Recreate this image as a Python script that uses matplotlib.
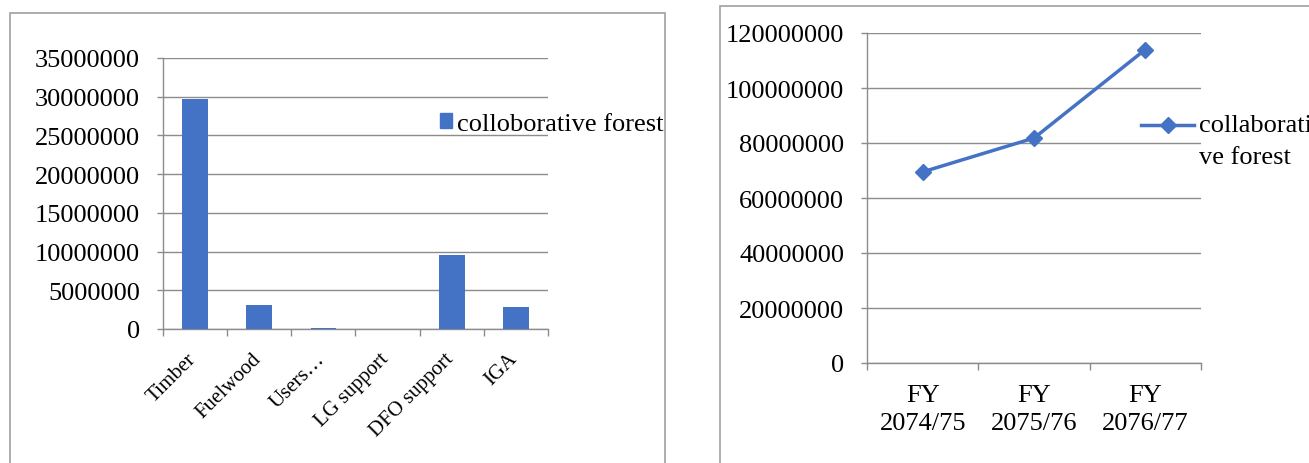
import matplotlib
matplotlib.use("Agg")
import matplotlib.pyplot as plt
from matplotlib.patches import Rectangle
from matplotlib.lines import Line2D
from matplotlib.transforms import ScaledTranslation

# --- data ---
components = ["Timber", "Fuelwood", "Users…", "LG support", "DFO support", "IGA"]
component_income = [29700000, 3130000, 150000, 0, 9560000, 2870000]

fiscal_years = ["FY\n2074/75", "FY\n2075/76", "FY\n2076/77"]
yearly_income = [69500000, 81800000, 114000000]

series_name_bar = "colloborative forest"
series_name_line = ["collaborati", "ve forest"]

left_ticks = list(range(0, 35000001, 5000000))
right_ticks = list(range(0, 120000001, 20000000))

# --- style ---
W, H = 1309, 464
DPI = 100
PT = 72 / DPI          # points per pixel
BLUE = "#4472C4"
GRID = "#8c8c8c"
FRAME = "#a0a0a0"
FONT = "Liberation Serif"
FS = 19
FS_ROT = 15

plt.rcParams["font.family"] = [FONT, "DejaVu Serif"]
plt.rcParams["font.size"] = FS

fig = plt.figure(figsize=(W / DPI, H / DPI), dpi=DPI)


def px_axes(x0, y_top, x1, y_bot):
    return fig.add_axes([x0 / W, (H - y_bot) / H, (x1 - x0) / W, (y_bot - y_top) / H])


def px(x, y):
    return (x / W, (H - y) / H)


def style_axes(ax):
    for s in ("top", "right"):
        ax.spines[s].set_visible(False)
    for s in ("left", "bottom"):
        ax.spines[s].set_color(GRID)
        ax.spines[s].set_linewidth(1.0)
    ax.yaxis.grid(True, color=GRID, linewidth=1.0)
    ax.set_axisbelow(True)
    ax.tick_params(axis="y", length=6 * PT, width=1.0, color=GRID, pad=17 * PT, labelsize=FS)
    ax.tick_params(axis="x", which="major", length=7 * PT, width=1.0, color=GRID, labelbottom=False)
    ax.tick_params(axis="x", which="minor", length=0)


# chart frames
fig.add_artist(Rectangle(px(10, 480), 655 / W, (480 - 14) / H, transform=fig.transFigure,
                         fill=False, edgecolor=FRAME, linewidth=1.2, clip_on=False))
fig.add_artist(Rectangle(px(720, 480), 700 / W, (480 - 7) / H, transform=fig.transFigure,
                         fill=False, edgecolor=FRAME, linewidth=1.2, clip_on=False))

# --- left: income by component (bar) ---
ax1 = px_axes(163, 59, 548, 330)
n = len(components)
ax1.bar(range(n), component_income, width=0.4, color=BLUE, zorder=3)
ax1.set_xlim(-0.5, n - 0.5)
ax1.set_ylim(0, 35000000)
ax1.set_yticks(left_ticks)
ax1.set_yticklabels([str(v) for v in left_ticks])
ax1.set_xticks([i - 0.5 for i in range(n + 1)])
ax1.set_xticks(range(n), minor=True)
style_axes(ax1)
ax1.set_xticklabels(components, minor=True, rotation=45, ha="right", va="top",
                    rotation_mode="anchor", fontsize=FS_ROT)
ax1.tick_params(axis="x", which="minor", pad=20 * PT, labelbottom=True)
shift = ScaledTranslation(-8 / DPI, 0, fig.dpi_scale_trans)
for lab in ax1.get_xticklabels(minor=True):
    lab.set_transform(lab.get_transform() + shift)

ax1.legend([Rectangle((0, 0), 1, 1, color=BLUE)], [series_name_bar],
           loc="center left", bbox_to_anchor=px(440, 125), bbox_transform=fig.transFigure,
           frameon=False, handlelength=0.47, handleheight=0.47, handletextpad=0.17,
           borderpad=0, borderaxespad=0, fontsize=FS)

# --- right: income by fiscal year (line) ---
ax2 = px_axes(867, 34, 1201, 364)
m = len(fiscal_years)
ax2.plot(range(m), yearly_income, color=BLUE, linewidth=2.5, marker="D",
         markersize=8.5, zorder=3)
ax2.set_xlim(-0.5, m - 0.5)
ax2.set_ylim(0, 120000000)
ax2.set_yticks(right_ticks)
ax2.set_yticklabels([str(v) for v in right_ticks])
ax2.set_xticks([i - 0.5 for i in range(m + 1)])
ax2.set_xticks(range(m), minor=True)
style_axes(ax2)
ax2.set_xticklabels(fiscal_years, minor=True, ha="center", va="top",
                    linespacing=1.38, fontsize=FS)
ax2.tick_params(axis="x", which="minor", pad=21 * PT, labelbottom=True)

# legend entry for the line series
lx0, lx1, ly = 1141, 1194, 126
fig.add_artist(Line2D([lx0 / W, lx1 / W], [(H - ly) / H] * 2, transform=fig.transFigure,
                      color=BLUE, linewidth=2.5))
fig.add_artist(Line2D([(lx0 + lx1) / 2 / W], [(H - ly) / H], transform=fig.transFigure,
                      color=BLUE, marker="D", markersize=8.5, linestyle="none"))
fig.text(1199 / W, (H - ly) / H, series_name_line[0], ha="left", va="center", fontsize=FS)
fig.text(1199 / W, (H - 158) / H, series_name_line[1], ha="left", va="center", fontsize=FS)

fig.savefig("out.png", dpi=DPI, facecolor="white")
